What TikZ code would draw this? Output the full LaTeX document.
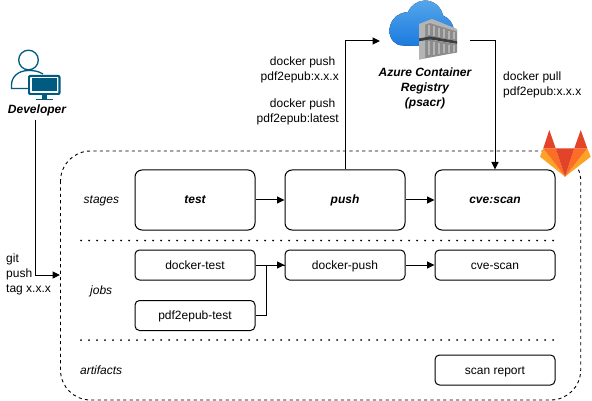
\documentclass[tikz,border=0pt]{standalone}
\usepackage{fontspec}
\setmainfont{Liberation Sans}
\usetikzlibrary{arrows.meta,positioning}
\definecolor{devblue}{HTML}{005B81}
\definecolor{cloudtop}{HTML}{55A6EA}
\definecolor{cloudbot}{HTML}{1A7ADF}
\definecolor{glred}{HTML}{E24329}
\definecolor{glmid}{HTML}{FC6D26}
\definecolor{glyel}{HTML}{FCA326}
\definecolor{crateA}{HTML}{8C8C8C}
\definecolor{crateB}{HTML}{B4B4B4}
\definecolor{crateC}{HTML}{3E3E3E}
\tikzset{
  x=1pt,y=-1pt,
  txt/.style={font=\fontsize{12}{15}\selectfont,align=left,inner sep=0,text=black},
  txtr/.style={txt,align=right},
  ital/.style={font=\fontsize{12}{15}\selectfont\itshape,inner sep=0,text=black,text height=9pt,text depth=1pt},
  bitl/.style={font=\fontsize{12}{15}\selectfont\bfseries\itshape,inner sep=0,text=black,align=center},
  bigbox/.style={draw=black,line width=1pt,rounded corners=7pt,minimum width=120pt,minimum height=60pt,inner sep=0,text height=9pt,text depth=1pt,font=\fontsize{12}{15}\selectfont\bfseries\itshape},
  smallbox/.style={draw=black,line width=1pt,rounded corners=4.5pt,minimum width=120pt,minimum height=30pt,inner sep=0,text height=9pt,text depth=1pt,font=\fontsize{12}{15}\selectfont},
  conn/.style={draw=black,line width=1pt,-{Triangle[length=7.5pt,width=7pt]}},
  plainconn/.style={draw=black,line width=1pt},
  dotline/.style={black,line width=2pt,line cap=round,dash pattern=on 0pt off 8pt},
}
\begin{document}
\begin{tikzpicture}
\useasboundingbox (0,0) rectangle (592,401);
\fill[white] (0,0) rectangle (592,401);
% container
\draw[black,line width=0.9pt,dash pattern=on 3.2pt off 3.2pt,rounded corners=30pt] (60.5,151) rectangle (580.7,400);
\draw[dotline] (81,240.5) -- (554,240.5);
\draw[dotline] (81,340) -- (554,340);
% boxes
\node[bigbox] (test) at (195,200) {test};
\node[bigbox] (push) at (345,200) {push};
\node[bigbox] (scan) at (495,200) {cve:scan};
\node[smallbox] (dtest) at (195,265) {docker-test};
\node[smallbox] (ptest) at (195,315.5) {pdf2epub-test};
\node[smallbox] (dpush) at (345,265) {docker-push};
\node[smallbox] (cscan) at (495,265) {cve-scan};
\node[smallbox] (report) at (495,370) {scan report};
% row labels
\node[ital,anchor=west] (lstages) at (83.5,200) {stages};
\node[ital,anchor=west] (ljobs) at (90,290) {jobs};
\node[ital,anchor=west] (lart) at (80,370) {artifacts};
% developer icon
\coordinate (devbottom) at (35,120);
\coordinate (contleft) at (60,275);
\draw[devblue,line width=1.3pt] (28.5,60) circle (9.8);
\draw[devblue,line width=1.3pt] (43,74) .. controls (38,71) and (34,70.5) .. (28.5,70.5) .. controls (18,70.5) and (11.5,77) .. (11.5,85) -- (11.5,88.5) -- (28,88.5);
\fill[devblue,rounded corners=2pt] (28,75) rectangle (60.5,95);
\fill[white,rounded corners=0.5pt] (30.2,77.2) rectangle (58.3,92.8);
\fill[devblue] (31.5,78.5) rectangle (57,91.5);
\fill[devblue] (41.5,95) rectangle (47,99);
\fill[devblue] (36,98.8) rectangle (52.5,100.5);
\node[bitl] (dev) at (37,110) {Developer};
% cloud
\fill[top color=cloudtop,bottom color=cloudbot]
 (403,45.5) .. controls (395,45.5) and (389.5,39) .. (389.5,31)
 .. controls (389.5,23) and (394,16) .. (401,13.5)
 .. controls (404,12.5) and (406,12) .. (408,12)
 .. controls (411,5) and (418,0.5) .. (425,0.5)
 .. controls (433,0.5) and (441,6) .. (443,15.5)
 .. controls (449,18) and (453,23) .. (454,30)
 -- (420,46) -- cycle;
% crates
\fill[crateA] (419,24) -- (432,19) -- (457,30) -- (457,41) -- (430,36.5) -- (419,38.5) -- cycle;
\fill[crateB] (419,24) -- (432,19) -- (457,29) -- (457,31.5) -- (430,23) -- (425,24.5) -- (425,37.5) -- (419,38.5) -- cycle;
\fill[crateC] (419,38.5) -- (430,36.5) -- (457,41) -- (457,44) -- (430,39.5) -- (419,41.5) -- cycle;
\fill[crateA] (419,41.5) -- (430,39.5) -- (457,44) -- (457,52.5) -- (430,57.5) -- (419,59.5) -- cycle;
\fill[crateB] (419,41.5) -- (425,40.5) -- (425,58.5) -- (419,59.5) -- cycle;
\foreach \xx/\ya/\yb/\yc/\yd in {429/25/35/41/55.5,434/26.5/36.5/42/55,439/28/37.5/43/54,444/29.5/38.5/44/53.5,449/31/39/45/53,454/32.5/39.5/45.5/52.5}{
 \draw[crateB,line width=1.6pt] (\xx,\ya) -- (\xx,\yb);
 \draw[crateB,line width=1.6pt] (\xx,\yc) -- (\xx,\yd);
}
\node[bitl] (acr) at (425,88.5) {Azure Container\\Registry\\(psacr)};
\coordinate (acrin) at (380,41);
\coordinate (acrout) at (470,41);
% gitlab logo
\fill[glyel] (540,156.7) -- (543.3,148.3) -- (565,176.7) -- cycle;
\fill[glyel] (590.7,156.7) -- (587.3,148.3) -- (565,176.7) -- cycle;
\fill[glmid] (543.3,148.3) -- (555.7,148.3) -- (565,176.7) -- cycle;
\fill[glmid] (587.3,148.3) -- (574.3,148.3) -- (565,176.7) -- cycle;
\fill[glred] (555.7,148.3) -- (574.3,148.3) -- (565,176.7) -- cycle;
\fill[glred] (543.3,148.3) -- (549.3,130) -- (555.7,148.3) -- cycle;
\fill[glred] (574.3,148.3) -- (580.7,130) -- (587.3,148.3) -- cycle;
% connectors
\draw[conn] (test) -- (push);
\draw[conn] (push) -- (scan);
\draw[conn] (dtest) -- (dpush);
\draw[conn] (dpush) -- (cscan);
\draw[plainconn] (ptest.east) -- ++(11,0) |- (dpush.west);
\draw[conn] (push.north) |- (acrin);
\draw[conn] (acrout) -| (scan.north);
\draw[conn] (devbottom) |- (contleft);
% labels
\node[txtr,anchor=east] (t1) at (339,70) {docker push\hspace*{3.5pt}\\[0pt]pdf2epub:x.x.x};
\node[txtr,anchor=east] (t2) at (339,112) {docker push\hspace*{3.5pt}\\[0pt]pdf2epub:latest};
\node[txt,anchor=west] (t3) at (503,85) {docker pull\\[0pt]pdf2epub:x.x.x};
\node[txt,anchor=west] (t4) at (6,274.5) {git\\[0pt]push\\[0pt]tag x.x.x};
\end{tikzpicture}
\end{document}
